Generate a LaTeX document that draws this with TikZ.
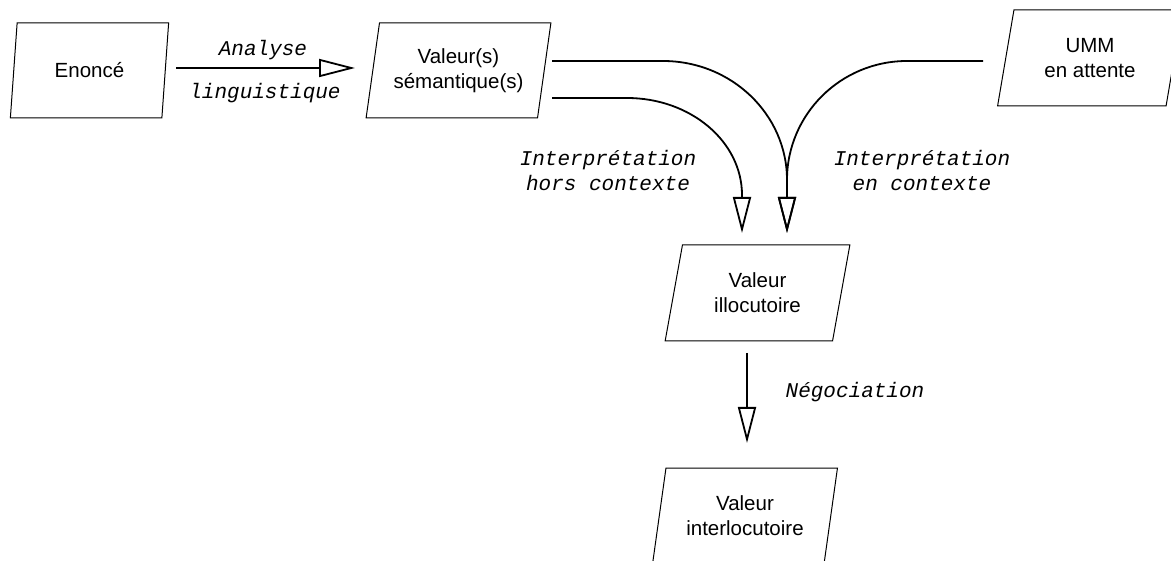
\documentclass[tikz,border=0pt]{standalone}
\usepackage{fontspec}
\setmainfont{Liberation Sans}
\newfontfamily\labfont{Liberation Mono}
\usetikzlibrary{shapes.geometric,arrows.meta,calc}
\begin{document}
\begin{tikzpicture}[x=1pt,y=-1pt,
  box/.style={trapezium, trapezium left angle=76, trapezium right angle=104,
    trapezium stretches=true, draw, line width=1pt,
    minimum width=185pt, minimum height=96pt, inner sep=0pt,
    align=center, font=\fontsize{20.5}{25}\selectfont},
  lab/.style={align=center, inner sep=0pt, font=\labfont\itshape\fontsize{21}{25}\selectfont},
  arr/.style={line width=1.8pt, -{Triangle[open, length=36pt, width=18pt]}}
]
\useasboundingbox (0,0) rectangle (1171,561);

\node[box, minimum width=159pt, minimum height=95pt,
      trapezium left angle=78, trapezium right angle=102] (en) at (89.5,70.5) {Enoncé};
\node[box, minimum height=95pt] (val) at (458.5,70.5) {Valeur(s)\\sémantique(s)};
\node[box] (umm) at (1090,58) {UMM\\en attente};
\node[box] (ill) at (757.5,293) {Valeur\\illocutoire};
\node[box] (inter) at (745,516) {Valeur\\interlocutoire};

\coordinate (a1) at ($(en.center)+(86.5,-2.5)$);
\coordinate (a2) at ($(val.center)+(-103.5,-2.5)$);
\coordinate (u1) at ($(val.center)+(93.5,-9.5)$);
\coordinate (l1) at ($(val.center)+(93.5,27.5)$);
\coordinate (r1) at ($(umm.center)+(-107,3)$);
\coordinate (t1) at ($(ill.center)+(-15.5,-60)$);
\coordinate (t2) at ($(ill.center)+(29.5,-60)$);
\coordinate (n1) at ($(ill.center)+(-10.5,60)$);
\coordinate (n2) at ($(inter.center)+(2,-73)$);

\draw[arr] (a1) -- (a2);
\draw[arr] (u1) -- ++(111,0) .. controls +(68.4,0) and +(0,-65.7) .. ++(124,119) -- (t2);
\draw[arr] (l1) -- ++(75,0) .. controls +(63.5,0) and +(0,-53.5) .. ++(115,97) -- (t1);
\draw[arr] (r1) -- ++(-76,0) .. controls +(-66.2,0) and +(0,-65.7) .. ++(-120,119) -- (t2);
\draw[arr] (n1) -- (n2);

\node[lab] (lan) at (263,50) {Analyse};
\node[lab] (lli) at (265,93) {linguistique};
\node[lab] (lhc) at (608,170) {Interprétation\\hors contexte};
\node[lab] (lec) at (922,170) {Interprétation\\en contexte};
\node[lab] (lne) at (855,392) {Négociation};
\end{tikzpicture}
\end{document}
